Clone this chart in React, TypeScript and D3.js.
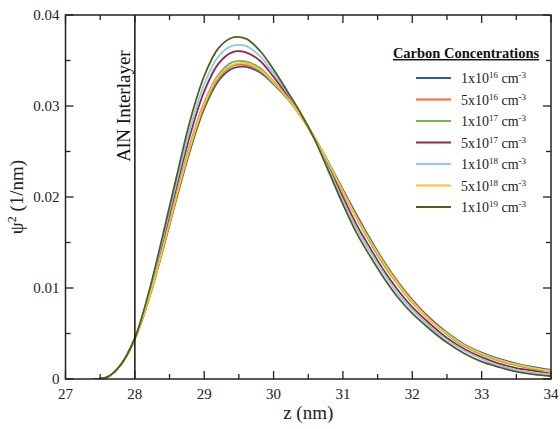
import React from "react";
import * as d3 from "d3";

const zGrid = [27.4, 27.6, 27.8, 28.0, 28.2, 28.4, 28.6, 28.8, 29.0, 29.2, 29.4, 29.6, 29.8, 30.0, 30.2, 30.4, 30.6, 30.8, 31.0, 31.2, 31.4, 31.6, 31.8, 32.0, 32.25, 32.5, 32.75, 33.0, 33.25, 33.5, 33.75, 34.0];

const c1e16 = [0, 0.0002, 0.0016, 0.0044, 0.0087, 0.0141, 0.0198, 0.0252, 0.0297, 0.0327, 0.0341, 0.0343, 0.0337, 0.0324, 0.0308, 0.0288, 0.0264, 0.0237, 0.0208, 0.0180, 0.0153, 0.0128, 0.0106, 0.0087, 0.0067, 0.0051, 0.0038, 0.0029, 0.0022, 0.0017, 0.0013, 0.0010];
const c5e16 = [0, 0.0002, 0.0016, 0.0044, 0.0088, 0.0142, 0.0200, 0.0255, 0.0300, 0.0330, 0.0344, 0.0345, 0.0339, 0.0325, 0.0309, 0.0288, 0.0264, 0.0236, 0.0207, 0.0178, 0.0151, 0.0127, 0.0105, 0.0086, 0.0066, 0.0050, 0.0037, 0.0028, 0.0021, 0.0016, 0.0012, 0.0009];
const c1e17 = [0, 0.0002, 0.0016, 0.0044, 0.0089, 0.0144, 0.0203, 0.0259, 0.0304, 0.0334, 0.0348, 0.0349, 0.0342, 0.0327, 0.0310, 0.0289, 0.0264, 0.0235, 0.0205, 0.0176, 0.0149, 0.0124, 0.0103, 0.0084, 0.0065, 0.0049, 0.0036, 0.0027, 0.0020, 0.0015, 0.0011, 0.0009];
const c5e17 = [0, 0.0002, 0.0016, 0.0045, 0.0091, 0.0149, 0.0211, 0.0269, 0.0316, 0.0346, 0.0359, 0.0359, 0.0350, 0.0332, 0.0312, 0.0290, 0.0263, 0.0232, 0.0200, 0.0169, 0.0143, 0.0118, 0.0097, 0.0079, 0.0061, 0.0045, 0.0033, 0.0024, 0.0017, 0.0012, 0.0009, 0.0006];
const c1e18 = [0, 0.0002, 0.0016, 0.0045, 0.0093, 0.0153, 0.0216, 0.0276, 0.0324, 0.0354, 0.0366, 0.0366, 0.0355, 0.0336, 0.0314, 0.0290, 0.0263, 0.0230, 0.0196, 0.0165, 0.0139, 0.0115, 0.0093, 0.0076, 0.0058, 0.0043, 0.0031, 0.0022, 0.0015, 0.0010, 0.0007, 0.0005];
const c5e18 = [0, 0.0002, 0.0016, 0.0044, 0.0088, 0.0143, 0.0201, 0.0256, 0.0302, 0.0332, 0.0345, 0.0347, 0.0340, 0.0326, 0.0309, 0.0288, 0.0264, 0.0236, 0.0206, 0.0177, 0.0151, 0.0126, 0.0104, 0.0085, 0.0065, 0.0050, 0.0037, 0.0028, 0.0021, 0.0016, 0.0012, 0.0009];
const c1e19 = [0, 0.0002, 0.0016, 0.0045, 0.0095, 0.0157, 0.0222, 0.0285, 0.0333, 0.0363, 0.0375, 0.0374, 0.0361, 0.0340, 0.0316, 0.0291, 0.0262, 0.0227, 0.0192, 0.0160, 0.0134, 0.0110, 0.0089, 0.0072, 0.0055, 0.0040, 0.0028, 0.0019, 0.0013, 0.0008, 0.0005, 0.0003];

const seriesNames = ["1e16", "5e16", "1e17", "5e17", "1e18", "5e18", "1e19"];
const seriesMant = ["1", "5", "1", "5", "1", "5", "1"];
const seriesExp = ["16", "16", "17", "17", "18", "18", "19"];
const seriesValues = [c1e16, c5e16, c1e17, c5e17, c1e18, c5e18, c1e19];
const seriesColors = ["#2f5a9a", "#f0683c", "#7cb24b", "#9e2143", "#8ccbec", "#f6c530", "#525d1f"];

const xMajor = [27, 28, 29, 30, 31, 32, 33, 34];
const xMinor = [27.5, 28.5, 29.5, 30.5, 31.5, 32.5, 33.5];
const yMajor = [0, 0.01, 0.02, 0.03, 0.04];
const yMinor = [0.005, 0.015, 0.025, 0.035];
const yLabels = ["0", "0.01", "0.02", "0.03", "0.04"];

const W = 560, H = 429;
const L = 65.5, R = 551, T = 15, B = 379;
const FONT = "'Liberation Serif', 'Times New Roman', serif";

export default function App() {
  const x = d3.scaleLinear().domain([27, 34]).range([L, R]);
  const y = d3.scaleLinear().domain([0, 0.04]).range([B, T]);
  const line = d3
    .line<number>()
    .x((_, i) => x(zGrid[i]))
    .y((d) => y(d))
    .curve(d3.curveCatmullRom.alpha(0.5));

  const axisColor = "#222";
  const majLen = 8, minLen = 5;

  return (
    <svg width={W} height={H} style={{ position: "absolute", left: 0, top: 0, background: "#fff" }} fontFamily={FONT}>
      <rect x={0} y={0} width={W} height={H} fill="#fff" />
      <defs>
        <clipPath id="plotclip">
          <rect x={L} y={T} width={R - L} height={B - T} />
        </clipPath>
      </defs>
      <g clipPath="url(#plotclip)">
        {seriesValues.map((vals, i) => (
          <path key={seriesNames[i]} d={line(vals) || ""} fill="none" stroke={seriesColors[i]} strokeWidth={1.8} />
        ))}
      </g>
      {/* AlN interlayer line */}
      <line x1={x(28)} x2={x(28)} y1={T} y2={B} stroke="#111" strokeWidth={1.5} />
      <text transform={`translate(${x(28) - 5},${106}) rotate(-90)`} textAnchor="middle" fontSize={19} fill="#111">
        AlN Interlayer
      </text>
      {/* frame */}
      <rect x={L} y={T} width={R - L} height={B - T} fill="none" stroke={axisColor} strokeWidth={1.5} />
      {xMajor.map((v) => (
        <g key={"xM" + v}>
          <line x1={x(v)} x2={x(v)} y1={B} y2={B - majLen} stroke={axisColor} strokeWidth={1.3} />
          <line x1={x(v)} x2={x(v)} y1={T} y2={T + majLen} stroke={axisColor} strokeWidth={1.3} />
          <text x={x(v)} y={B + 20} textAnchor="middle" fontSize={15} fill="#222">
            {v}
          </text>
        </g>
      ))}
      {xMinor.map((v) => (
        <g key={"xm" + v}>
          <line x1={x(v)} x2={x(v)} y1={B} y2={B - minLen} stroke={axisColor} strokeWidth={1.3} />
          <line x1={x(v)} x2={x(v)} y1={T} y2={T + minLen} stroke={axisColor} strokeWidth={1.3} />
        </g>
      ))}
      {yMajor.map((v, i) => (
        <g key={"yM" + v}>
          <line x1={L} x2={L + majLen} y1={y(v)} y2={y(v)} stroke={axisColor} strokeWidth={1.3} />
          <line x1={R} x2={R - majLen} y1={y(v)} y2={y(v)} stroke={axisColor} strokeWidth={1.3} />
          <text x={L - 6} y={y(v) + 5} textAnchor="end" fontSize={15} fill="#222">
            {yLabels[i]}
          </text>
        </g>
      ))}
      {yMinor.map((v) => (
        <g key={"ym" + v}>
          <line x1={L} x2={L + minLen} y1={y(v)} y2={y(v)} stroke={axisColor} strokeWidth={1.3} />
          <line x1={R} x2={R - minLen} y1={y(v)} y2={y(v)} stroke={axisColor} strokeWidth={1.3} />
        </g>
      ))}
      {/* axis titles */}
      <text x={(L + R) / 2} y={419} textAnchor="middle" fontSize={19} fill="#222">
        z (nm)
      </text>
      <text transform={`translate(${23},${(T + B) / 2}) rotate(-90)`} textAnchor="middle" fontSize={19} fill="#222">
        ψ<tspan baselineShift="super" fontSize={12}>2</tspan> (1/nm)
      </text>
      {/* legend */}
      <text x={466} y={58} textAnchor="middle" fontSize={14.5} fontWeight="bold" textDecoration="underline" fill="#111">
        Carbon Concentrations
      </text>
      {seriesNames.map((n, i) => {
        const ly = 78 + i * 21.5;
        return (
          <g key={"lg" + n}>
            <line x1={416} x2={451} y1={ly} y2={ly} stroke={seriesColors[i]} strokeWidth={1.8} />
            <text x={461} y={ly + 5} fontSize={14} fill="#222">
              {seriesMant[i]}x10<tspan baselineShift="super" fontSize={9}>{seriesExp[i]}</tspan>
              <tspan> cm</tspan>
              <tspan baselineShift="super" fontSize={9}>-3</tspan>
            </text>
          </g>
        );
      })}
    </svg>
  );
}
